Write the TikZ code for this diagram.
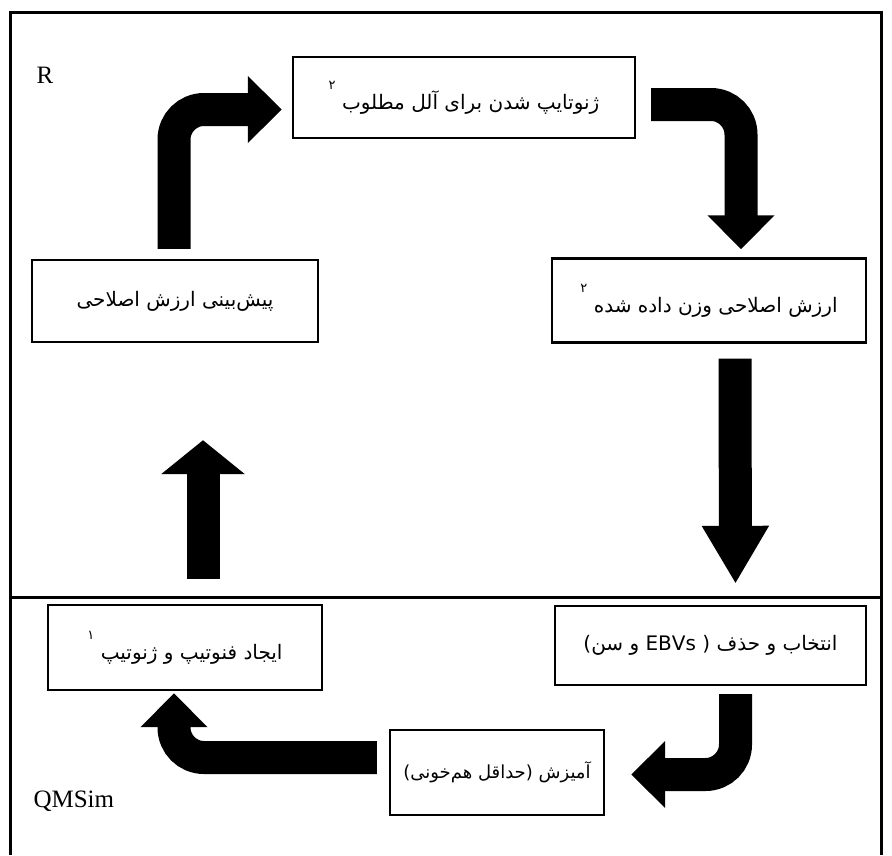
\documentclass[tikz,border=0pt]{standalone}
\usepackage{fontspec}
\setmainfont{Liberation Serif}
\newfontfamily\farsi[Script=Arabic]{DejaVu Sans}
\usetikzlibrary{calc,arrows.meta}
\TeXXeTstate=1
\newcommand{\fa}[1]{{\farsi\beginR #1\endR}}
\newcommand{\supnum}[1]{\raisebox{1.8ex}{\fontsize{13}{13}\selectfont #1}}

\tikzset{
  stagebox/.style={draw, line width=2.4pt, fill=white, inner sep=0pt,
    font=\fontsize{20}{24}\selectfont},
  fatarrow/.style={line width=33pt, rounded corners=30pt,
    -{Triangle[length=34pt, width=65pt]}},
}

\begin{document}
\begin{tikzpicture}[x=1pt, y=-1pt]
  %%%%% START %%%%%
  \useasboundingbox (0,0) rectangle (892,855);

  % frame and split
  \draw[line width=3pt] (10,855) -- (10,12) -- (881,12) -- (881,855);
  \draw[line width=3pt] (10,597) -- (881,597);

  \node[font=\fontsize{25}{29}\selectfont] (rlab) at (45,75) {R};
  \node[font=\fontsize{25}{29}\selectfont, anchor=west] (qlab) at (30,801) {QMSim};

  % R side
  \node[stagebox, minimum width=342pt, minimum height=81pt] (geno) at (464,97.5)
    {\fa{ژنوتایپ شدن برای آلل مطلوب \supnum{۲}}};
  \node[stagebox, minimum width=314pt, minimum height=84pt] (webv) at (709,300.5)
    {\fa{ارزش اصلاحی وزن داده شده \supnum{۲}}};
  \node[stagebox, minimum width=286pt, minimum height=82pt] (pred) at (175,301)
    {\fa{پیش‌بینی ارزش اصلاحی}};

  % QMSim side
  \node[stagebox, minimum width=311pt, minimum height=79pt] (sel) at (710.5,645.5)
    {\fa{انتخاب و حذف ( \beginL EBVs\endL{} و سن)}};
  \node[stagebox, minimum width=274pt, minimum height=85pt] (sim) at (185,647.5)
    {\fa{ایجاد فنوتیپ و ژنوتیپ \supnum{۱}}};
  \node[stagebox, minimum width=214pt, minimum height=85pt,
    font=\fontsize{18}{22}\selectfont] (mate) at (497,772.5)
    {\fa{آمیزش (حداقل هم‌خونی)}};

  % arrows
  \draw[fatarrow] ($(pred.north)+(-1,-10)$) |- ($(geno.west)+(-10,12)$);
  \draw[fatarrow] ($(geno.east)+(15,7)$) -| ($(webv.north)+(32,-8)$);
  \draw[fatarrow, -{Triangle[length=58pt, width=63pt]}] ($(webv.south)+(26,15)$) -- ($(sel.north)+(25,-21)$);
  \draw[fatarrow] ($(sel.south)+(25,8)$) |- ($(mate.east)+(26,2)$);
  \draw[fatarrow] ($(mate.west)+(-12,-15)$) -| ($(sim.south)+(-11,2)$);
  \draw[fatarrow, -{Triangle[length=34pt, width=82pt]}] ($(sim.north)+(18,-25)$) -- ($(pred.south)+(28,97)$);

  %%%%% END %%%%%
\end{tikzpicture}
\end{document}
